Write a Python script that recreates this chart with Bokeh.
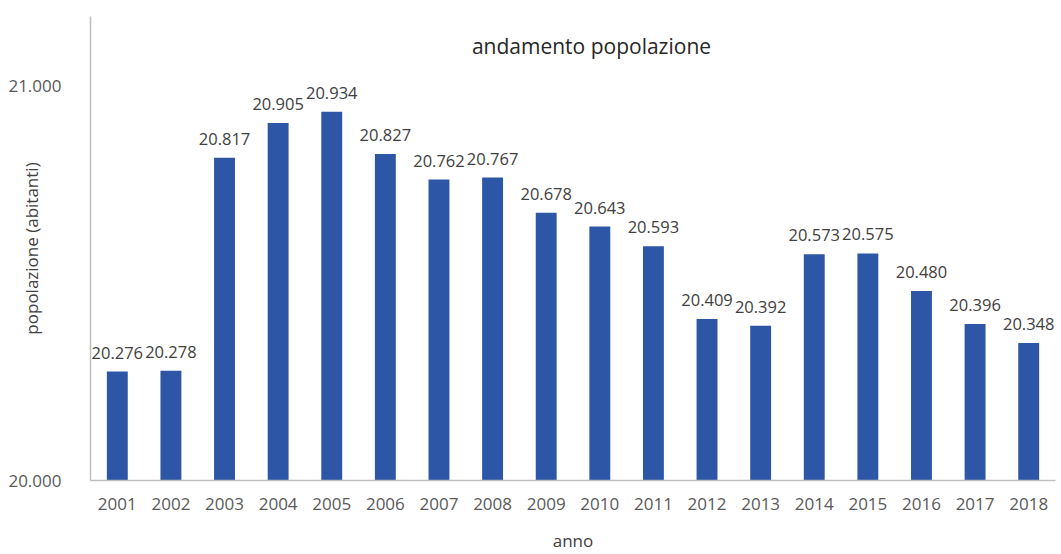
from bokeh.plotting import figure
from bokeh.models import ColumnDataSource, Label, FactorRange, Range1d, FixedTicker
from bokeh.core.properties import value
from bokeh.embed import file_html
from bokeh.resources import INLINE

anni = ["2001", "2002", "2003", "2004", "2005", "2006", "2007", "2008", "2009",
        "2010", "2011", "2012", "2013", "2014", "2015", "2016", "2017", "2018"]
popolazione = [20276, 20278, 20817, 20905, 20934, 20827, 20762, 20767, 20678,
               20643, 20593, 20409, 20392, 20573, 20575, 20480, 20396, 20348]
etichette = [f"{v:,}".replace(",", ".") for v in popolazione]
y_ticks = [20000, 21000]
y_tick_labels = {20000: "20.000", 21000: "21.000"}

FONT = "Open Sans"
BAR = "#2E56A6"

src = ColumnDataSource(dict(anno=anni, pop=popolazione, lab=etichette))

p = figure(width=1060, height=554, output_backend="svg", toolbar_location=None,
           x_range=FactorRange(*anni, range_padding=0),
           y_range=Range1d(20000, 21175),
           min_border_left=90, min_border_right=5, min_border_top=16, min_border_bottom=74)
p.outline_line_color = None
p.grid.visible = False
p.background_fill_color = "white"
p.border_fill_color = "white"

p.vbar(x="anno", top="pop", bottom=20000, width=0.39, source=src,
       fill_color=BAR, line_color=None)
p.text(x="anno", y="pop", text="lab", source=src, text_align="center",
       text_baseline="bottom", y_offset=-13, text_font=value(FONT),
       text_font_size="16.5px", text_color="#404040")

for ax in (p.xaxis[0], p.yaxis[0]):
    ax.axis_line_color = "#BFBFBF"
    ax.axis_line_width = 1.5
    ax.major_tick_line_color = None
    ax.minor_tick_line_color = None
    ax.major_label_text_font = FONT
    ax.major_label_text_font_size = "17px"
    ax.major_label_text_color = "#595959"
    ax.axis_label_text_font = FONT
    ax.axis_label_text_font_size = "17px"
    ax.axis_label_text_font_style = "normal"
    ax.axis_label_text_color = "#404040"

p.yaxis.ticker = FixedTicker(ticks=y_ticks)
p.yaxis.major_label_overrides = y_tick_labels
p.yaxis.major_label_standoff = 23
p.yaxis.axis_label = "popolazione (abitanti)"
p.yaxis.axis_label_standoff = -38
p.xaxis.major_label_standoff = 11
p.xaxis.axis_label = "anno"
p.xaxis.axis_label_standoff = 16

p.add_layout(Label(x=501, y=435, x_units="screen", y_units="screen",
                   text="andamento popolazione", text_align="center",
                   text_baseline="middle", text_font=FONT, text_font_size="21px",
                   text_color="#262626"))

open("out.html", "w").write(file_html(p, INLINE))
